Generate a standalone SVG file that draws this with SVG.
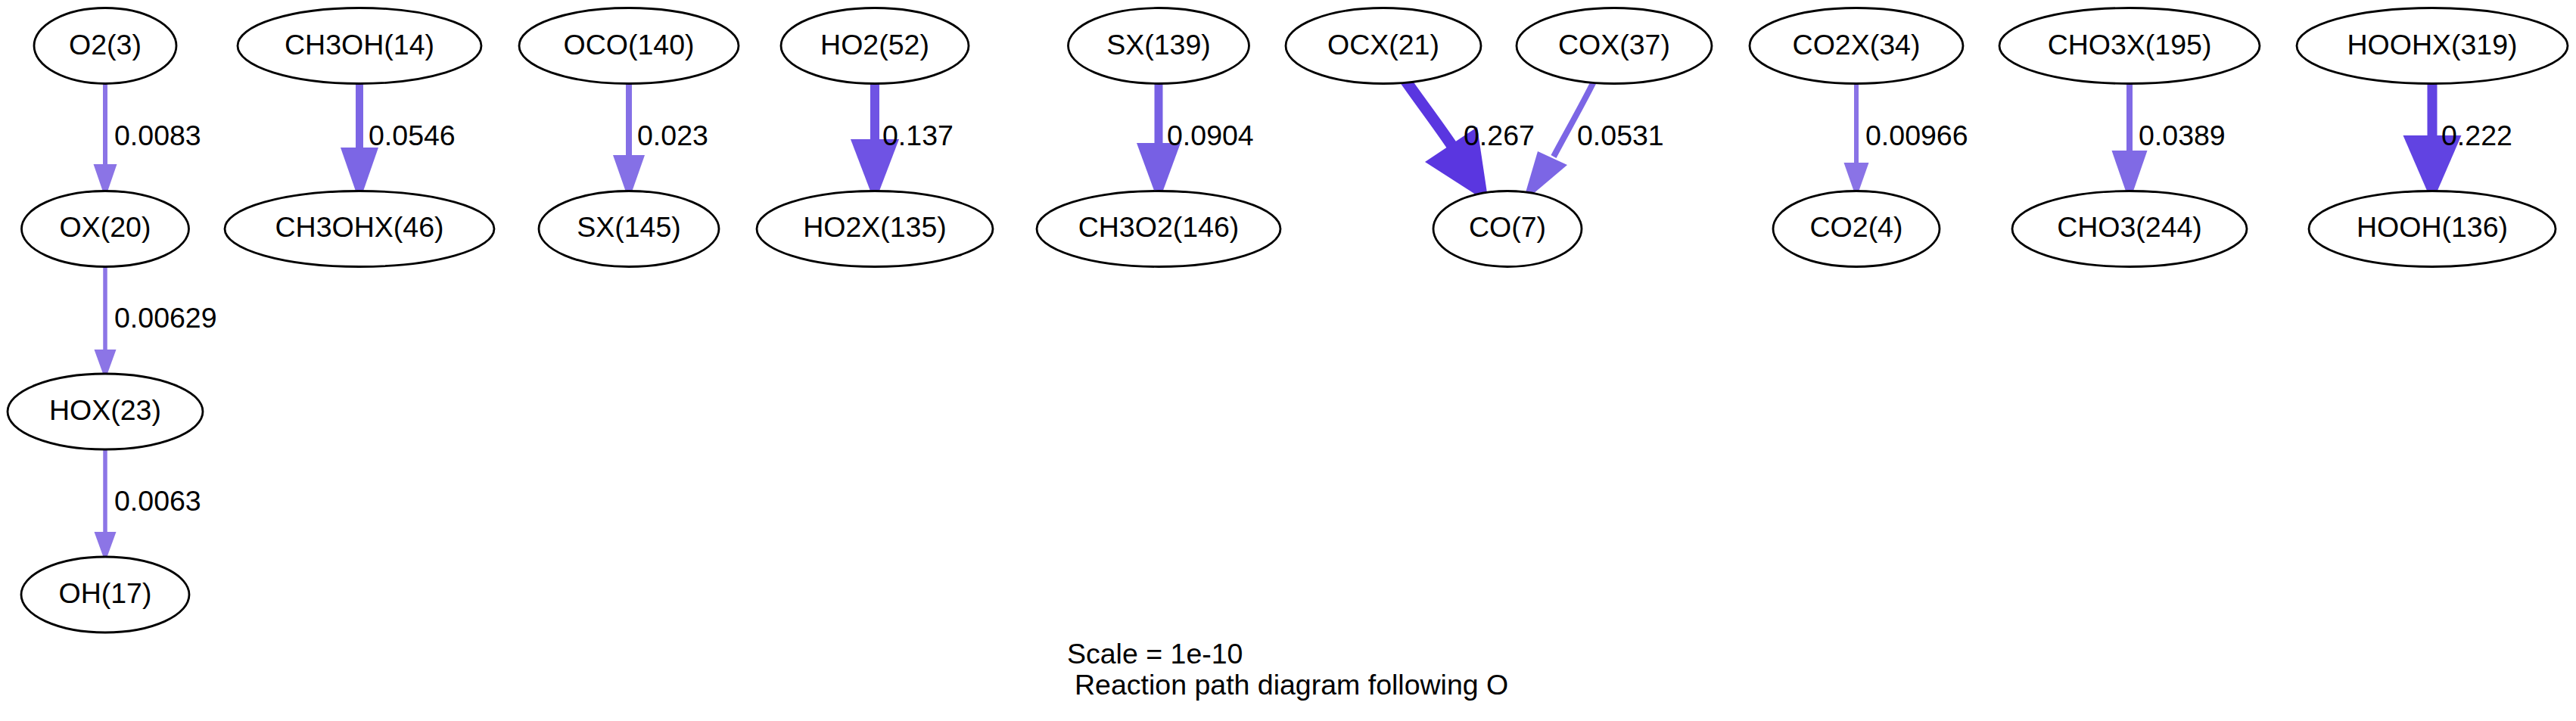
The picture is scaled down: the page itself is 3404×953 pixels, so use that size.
<svg xmlns="http://www.w3.org/2000/svg" width="3404" height="953" viewBox="0 0 3404 953">
<style>
.node ellipse{fill:#ffffff;stroke:#000000;stroke-width:2.8}
.node text{font-family:"Liberation Sans",Arial,Helvetica,sans-serif;font-size:37.5px;fill:#000000;text-anchor:middle}
.edge line,.edge path{fill:none}
.lbl{font-family:"Liberation Sans",Arial,Helvetica,sans-serif;font-size:37.5px;fill:#000000}
.foot{font-family:"Liberation Sans",Arial,Helvetica,sans-serif;font-size:37.5px;fill:#000000}
</style>
<rect x="0" y="0" width="3404" height="953" fill="#ffffff"/>
<g id="connectors">
  <g class="edge" id="e_O2_OX">
    <line x1="139" y1="111" x2="139" y2="218" stroke="#8b74e6" stroke-width="6"/>
    <polygon points="123.5,217 154.5,217 139,262" fill="#8b74e6"/>
    <text class="lbl" x="151" y="192">0.0083</text>
  </g>
  <g class="edge" id="e_OX_HOX">
    <line x1="139" y1="353" x2="139" y2="463" stroke="#8c75e6" stroke-width="5.5"/>
    <polygon points="124.5,462 153.5,462 139,502" fill="#8c75e6"/>
    <text class="lbl" x="151" y="433">0.00629</text>
  </g>
  <g class="edge" id="e_HOX_OH">
    <line x1="139" y1="594" x2="139" y2="704" stroke="#8c75e6" stroke-width="5.5"/>
    <polygon points="124.5,703 153.5,703 139,743" fill="#8c75e6"/>
    <text class="lbl" x="151" y="675">0.0063</text>
  </g>
  <g class="edge" id="e_CH3OH_CH3OHX">
    <line x1="475" y1="111" x2="475" y2="196" stroke="#7c66e5" stroke-width="10"/>
    <polygon points="450,195 500,195 475,267" fill="#7c66e5"/>
    <text class="lbl" x="487" y="192">0.0546</text>
  </g>
  <g class="edge" id="e_OCO_SX145">
    <line x1="831" y1="111" x2="831" y2="206" stroke="#8570e6" stroke-width="8"/>
    <polygon points="810,205 852,205 831,265" fill="#8570e6"/>
    <text class="lbl" x="842" y="192">0.023</text>
  </g>
  <g class="edge" id="e_HO2_HO2X">
    <line x1="1156" y1="111" x2="1156" y2="185" stroke="#6f53e4" stroke-width="12"/>
    <polygon points="1124,184 1188,184 1156,268" fill="#6f53e4"/>
    <text class="lbl" x="1166" y="192">0.137</text>
  </g>
  <g class="edge" id="e_SX139_CH3O2">
    <line x1="1531" y1="111" x2="1531" y2="190" stroke="#7760e4" stroke-width="11"/>
    <polygon points="1502,189 1560,189 1531,268" fill="#7760e4"/>
    <text class="lbl" x="1542" y="192">0.0904</text>
  </g>
  <g class="edge" id="e_OCX_CO">
    <path d="M1857,106 C1875,132 1898,162 1919,193" stroke="#5a36e0" stroke-width="15"/>
    <polygon points="1883,214 1952,168 1967,268" fill="#5a36e0"/>
    <text class="lbl" x="1934" y="192">0.267</text>
  </g>
  <g class="edge" id="e_COX_CO">
    <path d="M2106,108 C2090,140 2070,175 2053,207" stroke="#7c66e5" stroke-width="8"/>
    <polygon points="2032,200 2071,218 2012,268" fill="#7c66e5"/>
    <text class="lbl" x="2084" y="192">0.0531</text>
  </g>
  <g class="edge" id="e_CO2X_CO2">
    <line x1="2453" y1="111" x2="2453" y2="216" stroke="#8a73e6" stroke-width="6"/>
    <polygon points="2436.5,215 2469.5,215 2453,262" fill="#8a73e6"/>
    <text class="lbl" x="2465" y="192">0.00966</text>
  </g>
  <g class="edge" id="e_CHO3X_CHO3">
    <line x1="2814" y1="111" x2="2814" y2="200" stroke="#806ae5" stroke-width="8"/>
    <polygon points="2790.5,199 2837.5,199 2814,267" fill="#806ae5"/>
    <text class="lbl" x="2826" y="192">0.0389</text>
  </g>
  <g class="edge" id="e_HOOHX_HOOH">
    <line x1="3214" y1="111" x2="3214" y2="180" stroke="#6143e2" stroke-width="13"/>
    <polygon points="3175.5,179 3252.5,179 3214,268" fill="#6143e2"/>
    <text class="lbl" x="3226" y="192">0.222</text>
  </g>
</g>
<g id="n_O2" class="node"><ellipse cx="139" cy="60.5" rx="94" ry="50"/><text x="139" y="71.5">O2(3)</text></g>
<g id="n_OX" class="node"><ellipse cx="139" cy="302.5" rx="110.5" ry="50"/><text x="139" y="313">OX(20)</text></g>
<g id="n_HOX" class="node"><ellipse cx="139" cy="544" rx="129" ry="50"/><text x="139" y="554.5">HOX(23)</text></g>
<g id="n_OH" class="node"><ellipse cx="139" cy="786" rx="111" ry="50"/><text x="139" y="796.5">OH(17)</text></g>
<g id="n_CH3OH" class="node"><ellipse cx="475" cy="60.5" rx="161" ry="50"/><text x="475" y="71.5">CH3OH(14)</text></g>
<g id="n_CH3OHX" class="node"><ellipse cx="475" cy="302.5" rx="178" ry="50"/><text x="475" y="313">CH3OHX(46)</text></g>
<g id="n_OCO" class="node"><ellipse cx="831" cy="60.5" rx="145" ry="50"/><text x="831" y="71.5">OCO(140)</text></g>
<g id="n_SX145" class="node"><ellipse cx="831" cy="302.5" rx="119" ry="50"/><text x="831" y="313">SX(145)</text></g>
<g id="n_HO2" class="node"><ellipse cx="1156" cy="60.5" rx="124" ry="50"/><text x="1156" y="71.5">HO2(52)</text></g>
<g id="n_HO2X" class="node"><ellipse cx="1156" cy="302.5" rx="156" ry="50"/><text x="1156" y="313">HO2X(135)</text></g>
<g id="n_SX139" class="node"><ellipse cx="1531" cy="60.5" rx="119.5" ry="50"/><text x="1531" y="71.5">SX(139)</text></g>
<g id="n_CH3O2" class="node"><ellipse cx="1531" cy="302.5" rx="161" ry="50"/><text x="1531" y="313">CH3O2(146)</text></g>
<g id="n_OCX" class="node"><ellipse cx="1828" cy="60.5" rx="129" ry="50"/><text x="1828" y="71.5">OCX(21)</text></g>
<g id="n_COX" class="node"><ellipse cx="2133" cy="60.5" rx="129" ry="50"/><text x="2133" y="71.5">COX(37)</text></g>
<g id="n_CO" class="node"><ellipse cx="1992" cy="302.5" rx="98" ry="50"/><text x="1992" y="313">CO(7)</text></g>
<g id="n_CO2X" class="node"><ellipse cx="2453" cy="60.5" rx="141" ry="50"/><text x="2453" y="71.5">CO2X(34)</text></g>
<g id="n_CO2" class="node"><ellipse cx="2453" cy="302.5" rx="110" ry="50"/><text x="2453" y="313">CO2(4)</text></g>
<g id="n_CHO3X" class="node"><ellipse cx="2814" cy="60.5" rx="172" ry="50"/><text x="2814" y="71.5">CHO3X(195)</text></g>
<g id="n_CHO3" class="node"><ellipse cx="2814" cy="302.5" rx="155" ry="50"/><text x="2814" y="313">CHO3(244)</text></g>
<g id="n_HOOHX" class="node"><ellipse cx="3214" cy="60.5" rx="179" ry="50"/><text x="3214" y="71.5">HOOHX(319)</text></g>
<g id="n_HOOH" class="node"><ellipse cx="3214" cy="302.5" rx="163" ry="50"/><text x="3214" y="313">HOOH(136)</text></g>
<g id="footer">
  <text class="foot" x="1410" y="877">Scale = 1e-10</text>
  <text class="foot" x="1420" y="918">Reaction path diagram following O</text>
</g>
</svg>
